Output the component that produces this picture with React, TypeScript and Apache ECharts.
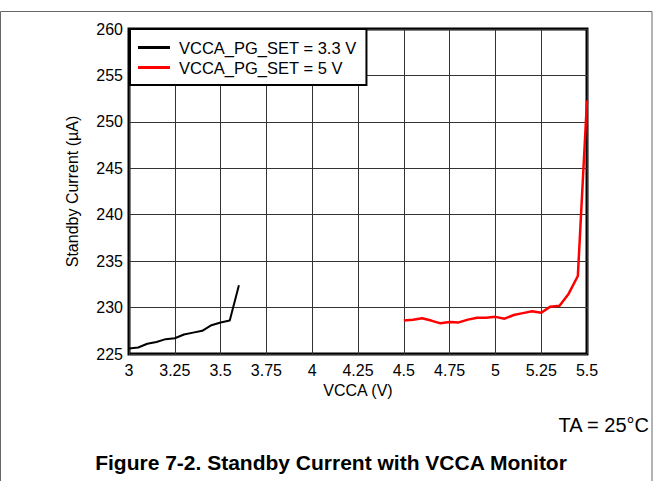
import React, { useEffect, useRef } from "react";
import * as echarts from "echarts";

const vcca33: number[] = [3.0, 3.05, 3.1, 3.15, 3.2, 3.25, 3.3, 3.35, 3.4, 3.45, 3.5, 3.55, 3.6];
const current33: number[] = [225.6, 225.7, 226.1, 226.3, 226.6, 226.7, 227.1, 227.3, 227.5, 228.1, 228.4, 228.6, 232.4];

const vcca5: number[] = [4.5, 4.55, 4.6, 4.65, 4.7, 4.75, 4.8, 4.85, 4.9, 4.95, 5.0, 5.05, 5.1, 5.15, 5.2, 5.25, 5.3, 5.35, 5.4, 5.45, 5.5];
const current5: number[] = [228.6, 228.7, 228.85, 228.6, 228.3, 228.45, 228.4, 228.7, 228.9, 228.9, 229.0, 228.8, 229.2, 229.4, 229.6, 229.45, 230.1, 230.2, 231.5, 233.4, 252.3];

const seriesNames: string[] = ["VCCA_PG_SET = 3.3 V", "VCCA_PG_SET = 5 V"];
const xAxisTitle = "VCCA (V)";
const yAxisTitle = "Standby Current (µA)";
const noteText = "TA = 25°C";
const figureTitle = "Figure 7-2. Standby Current with VCCA Monitor";

const FONT = "Liberation Sans, Arial, sans-serif";

export default function App() {
  const ref = useRef<HTMLDivElement>(null);
  useEffect(() => {
    if (!ref.current) return;
    const chart = echarts.init(ref.current, undefined, { renderer: "svg" });
    chart.setOption({
      animation: false,
      backgroundColor: "#fff",
      textStyle: { fontFamily: FONT },
      grid: {
        left: 129,
        right: 66,
        top: 29,
        bottom: 127,
        show: true,
        borderColor: "#000",
        borderWidth: 3,
      },
      legend: {
        left: 130,
        top: 29,
        orient: "vertical",
        backgroundColor: "#fff",
        borderColor: "#000",
        borderWidth: 2,
        borderRadius: 0,
        padding: [10, 10, 9, 8],
        itemGap: 3,
        itemWidth: 32,
        itemHeight: 3,
        icon: "rect",
        textStyle: { fontFamily: FONT, fontSize: 16.5, color: "#000", padding: [0, 0, 0, 4] },
        data: seriesNames,
      },
      xAxis: {
        type: "value",
        min: 3,
        max: 5.5,
        interval: 0.25,
        name: xAxisTitle,
        nameLocation: "middle",
        nameGap: 26,
        nameTextStyle: { fontFamily: FONT, fontSize: 16, color: "#000" },
        axisLine: { show: false },
        axisTick: { show: false },
        axisLabel: { fontFamily: FONT, fontSize: 16, color: "#000", margin: 8 },
        splitLine: { show: true, lineStyle: { color: "#333", width: 1 } },
      },
      yAxis: {
        type: "value",
        min: 225,
        max: 260,
        interval: 5,
        name: yAxisTitle,
        nameLocation: "middle",
        nameGap: 49,
        nameTextStyle: { fontFamily: FONT, fontSize: 16, color: "#000" },
        axisLine: { show: false },
        axisTick: { show: false },
        axisLabel: { fontFamily: FONT, fontSize: 16, color: "#000", margin: 6 },
        splitLine: { show: true, lineStyle: { color: "#333", width: 1 } },
      },
      series: [
        {
          name: seriesNames[0],
          type: "line",
          symbol: "none",
          color: "#000",
          lineStyle: { color: "#000", width: 2 },
          data: vcca33.map((v, i) => [v, current33[i]]),
        },
        {
          name: seriesNames[1],
          type: "line",
          symbol: "none",
          color: "#ff0000",
          lineStyle: { color: "#ff0000", width: 2.5 },
          data: vcca5.map((v, i) => [v, current5[i]]),
        },
      ],
      graphic: [
        {
          type: "rect",
          shape: { x: 0.5, y: 11.5, width: 651.5, height: 480 },
          style: { fill: "none", stroke: "#666", lineWidth: 1 },
          silent: true,
        },
        {
          type: "text",
          x: 649,
          y: 425,
          style: {
            text: noteText,
            fill: "#000",
            font: `20px ${FONT}`,
            textAlign: "right",
            textVerticalAlign: "middle",
          },
        },
        {
          type: "text",
          x: 331,
          y: 462,
          style: {
            text: figureTitle,
            fill: "#000",
            font: `bold 21px ${FONT}`,
            textAlign: "center",
            textVerticalAlign: "middle",
          },
        },
      ],
    });
    return () => chart.dispose();
  }, []);
  return (
    <div
      ref={ref}
      style={{ position: "fixed", left: 0, top: 0, width: 653, height: 481 }}
    />
  );
}
